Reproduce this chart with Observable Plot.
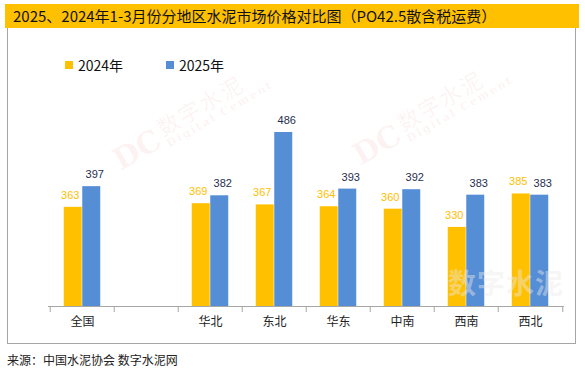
<!DOCTYPE html>
<html>
<head>
<meta charset="utf-8">
<script src="https://cdn.jsdelivr.net/npm/d3@7"></script>
<script src="https://cdn.jsdelivr.net/npm/@observablehq/plot@0.6"></script>
<style>
  html, body { margin: 0; padding: 0; background: #fff; }
  body { width: 585px; height: 371px; position: relative; overflow: hidden;
         font-family: "Liberation Sans", "Noto Sans CJK SC", sans-serif; }
  #title { position: absolute; left: 5px; top: 4px; width: 566px; height: 24px;
           background: #FFC000; padding-left: 8px; font-size: 15px; line-height: 24px;
           color: #111; font-family: "Noto Sans CJK SC", sans-serif; white-space: nowrap; }
  #box { position: absolute; left: 7px; top: 28px; width: 569px; height: 316px;
         border: 1px solid #A6A6A6; border-top: none; box-sizing: border-box; }
  #chart { position: absolute; left: 0; top: 28px; }
  #legend { position: absolute; left: 65px; top: 55px; display: flex; font-size: 14px;
            font-family: "Noto Sans CJK SC", sans-serif; color: #111; }
  .item { width: 101px; display: flex; align-items: center; height: 20px; }
  .sw { width: 8px; height: 8px; margin-right: 5px; }
  #source { position: absolute; left: 7px; top: 352px; font-size: 12px; color: #222;
            font-family: "Noto Sans CJK SC", sans-serif; white-space: nowrap; line-height: 16px; }
  .wm { position: absolute; transform-origin: 0 100%; transform: rotate(-30deg);
        color: rgba(225, 120, 120, 0.09); white-space: nowrap; font-family: "DejaVu Serif", serif; }
  .wm .dc { font-size: 30px; font-weight: bold; display: inline-block; vertical-align: bottom; }
  .wm .col { display: inline-block; vertical-align: bottom; margin-left: 4px; }
  .wm .cn { font-size: 22px; font-family: "Noto Sans CJK SC", serif; letter-spacing: 2px; display: block; line-height: 24px; }
  .wm .en { font-size: 11px; letter-spacing: 2px; display: block; font-weight: bold; }
  #wmbig { position: absolute; left: 448px; top: 268px; color: rgba(235, 235, 235, 0.45);
           font-family: "Noto Sans CJK SC", sans-serif; line-height: 1; white-space: nowrap;
           font-size: 28px; font-weight: bold; letter-spacing: 1px; }
</style>
</head>
<body>
<div id="title">2025、2024年1-3月份分地区水泥市场价格对比图（PO42.5散含税运费）</div>
<div id="box"></div>
<div class="wm" style="left:124px; top:140px;"><span class="dc">DC</span><span class="col"><span class="cn">数字水泥</span><span class="en">Digital Cement</span></span></div>
<div class="wm" style="left:364px; top:135px;"><span class="dc">DC</span><span class="col"><span class="cn">数字水泥</span><span class="en">Digital Cement</span></span></div>
<div id="chart"></div>
<div id="wmbig">数字水泥</div>
<div id="legend"></div>
<div id="source">来源：中国水泥协会 数字水泥网</div>
<script>
// ---- data ----
const regions = ["全国", "", "华北", "东北", "华东", "中南", "西南", "西北"];
const values2024 = [363, null, 369, 367, 364, 360, 330, 385];
const values2025 = [397, null, 382, 486, 393, 392, 383, 383];
const years = ["2024年", "2025年"];
const colors = ["#FFC000", "#558ED5"];
const labelColors = ["#FFC000", "#1F2F4F"];
const yMin = 200, yMax = 500;

// ---- build tables ----
const rows2024 = regions.map((r, i) => ({region: r, value: values2024[i]})).filter(d => d.value != null);
const rows2025 = regions.map((r, i) => ({region: r, value: values2025[i]})).filter(d => d.value != null);

// layout
const W = 585, H = 316;
const mL = 48, mR = 21, mT = 95.5, mB = 38;
const step = (W - mL - mR) / regions.length;   // band width
const barW = 18.5;
const outer = (step - 2 * barW) / 2;
const tickLen = 6 * (yMax - yMin) / (H - mT - mB);

const chart = Plot.plot({
  width: W, height: H,
  marginLeft: mL, marginRight: mR, marginTop: mT, marginBottom: mB,
  x: {domain: regions, padding: 0, axis: null, label: null},
  y: {domain: [yMin, yMax], axis: null, label: null},
  style: {background: "transparent", overflow: "visible"},
  marks: [
    Plot.barY(rows2024, {x: "region", y1: yMin, y2: "value", fill: colors[0],
      insetLeft: outer, insetRight: outer + barW}),
    Plot.barY(rows2025, {x: "region", y1: yMin, y2: "value", fill: colors[1],
      insetLeft: outer + barW, insetRight: outer}),
    Plot.text(rows2024, {x: "region", y: "value", text: d => String(d.value),
      dx: -barW / 2 - 3, dy: -12, fill: labelColors[0], fontSize: 11,
      fontFamily: "Liberation Sans, sans-serif"}),
    Plot.text(rows2025, {x: "region", y: "value", text: d => String(d.value),
      dx: barW / 2 + 3, dy: -12, fill: labelColors[1], fontSize: 11,
      fontFamily: "Liberation Sans, sans-serif"}),
    Plot.ruleY([yMin], {stroke: "#A6A6A6", strokeWidth: 1}),
    Plot.ruleX(regions, {x: d => d, y1: yMin, y2: yMin - tickLen, dx: -step / 2, stroke: "#A6A6A6"}),
    Plot.ruleX(regions.slice(-1), {x: d => d, y1: yMin, y2: yMin - tickLen, dx: step / 2, stroke: "#A6A6A6"}),
    Plot.axisX({tickSize: 0, tickPadding: 11, fontSize: 12, fill: "#222", label: null,
      fontFamily: "Noto Sans CJK SC, sans-serif"})
  ]
});
document.getElementById("chart").appendChild(chart);

// legend
const legend = document.getElementById("legend");
years.forEach((y, i) => {
  const item = document.createElement("div");
  item.className = "item";
  const sw = document.createElement("span");
  sw.className = "sw";
  sw.style.background = colors[i];
  const t = document.createElement("span");
  t.textContent = y;
  item.appendChild(sw);
  item.appendChild(t);
  legend.appendChild(item);
});
</script>
</body>
</html>
